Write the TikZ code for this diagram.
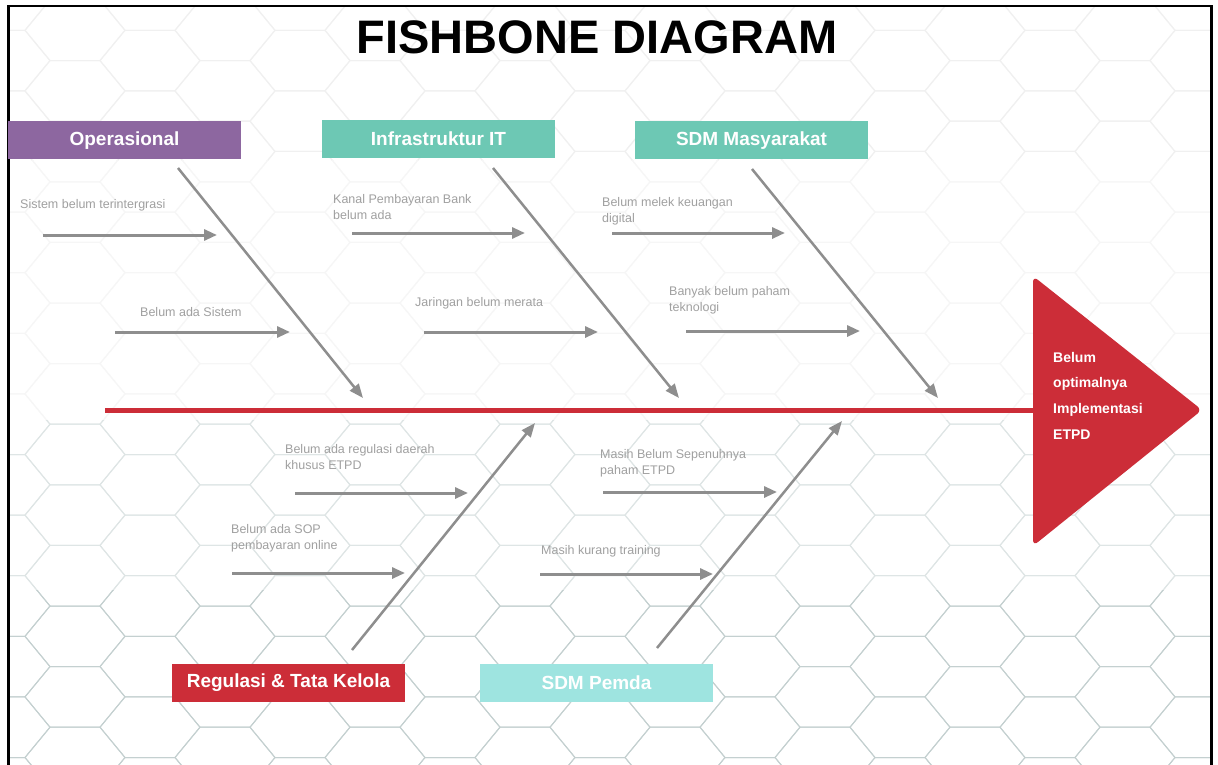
\documentclass[tikz,border=0pt]{standalone}
\usepackage{fontspec}
\setmainfont{Liberation Sans}
\usetikzlibrary{arrows.meta}

\definecolor{opspurple}{HTML}{8D67A0}
\definecolor{itteal}{HTML}{6DC8B4}
\definecolor{pemdacyan}{HTML}{9EE4E0}
\definecolor{fishred}{HTML}{CC2D38}
\definecolor{bonegray}{HTML}{8E8E8E}
\definecolor{labelgray}{HTML}{A0A0A0}
\definecolor{hextop}{HTML}{F0F0F0}
\definecolor{hexfaint}{HTML}{F6F6F6}
\definecolor{hexmid}{HTML}{DEE5E5}
\definecolor{hexdark}{HTML}{C4D0D0}

% flattened hexagon tiling, #1 = line colour
\newcommand{\hexgrid}[1]{%
  \foreach \i in {0,...,17}{
    \foreach \j in {-1,...,13}{
      \pgfmathsetmacro\hx{\i*75}
      \pgfmathsetmacro\hy{\j*60.6+mod(\i,2)*30.3}
      \draw[#1,line width=1pt] (\hx,\hy) +(50,0) -- +(25,30.3) -- +(-25,30.3) -- +(-50,0) -- +(-25,-30.3) -- +(25,-30.3) -- cycle;
    }
  }
}

\tikzset{
  catbox/.style={minimum width=233pt,minimum height=38pt,inner sep=0pt,text=white,
    font=\bfseries\fontsize{19}{19}\selectfont},
  bonearrow/.style={draw=bonegray,line width=2.5pt,-{Triangle[length=14pt,width=11pt]}},
  subarrow/.style={draw=bonegray,line width=3pt,-{Triangle[length=13pt,width=11pt]}},
  causelbl/.style={anchor=west,align=left,inner sep=0pt,text=labelgray,
    font=\fontsize{12.5}{16}\selectfont},
  headtext/.style={anchor=west,align=left,inner sep=0pt,text=white,
    font=\bfseries\fontsize{14}{25.7}\selectfont}
}

\begin{document}
\begin{tikzpicture}[x=1pt,y=-1pt]
  \useasboundingbox (0,0) rectangle (1218,765);
  \fill[white] (0,0) rectangle (1218,765);

  % background hexagons, in bands
  \begin{scope}
    \clip (9,7) rectangle (1211,160);
    \hexgrid{hextop}
  \end{scope}
  \begin{scope}
    \clip (9,160) rectangle (1211,420);
    \hexgrid{hexfaint}
  \end{scope}
  \begin{scope}
    \clip (9,420) rectangle (1211,590);
    \hexgrid{hexmid}
  \end{scope}
  \begin{scope}
    \clip (9,590) rectangle (1211,765);
    \hexgrid{hexdark}
  \end{scope}

  \draw[line width=2.5pt] (8.5,765) -- (8.5,6) -- (1211.5,6) -- (1211.5,765);% frame

  \node[font=\bfseries\fontsize{47}{47}\selectfont] (title) at (597,37) {FISHBONE DIAGRAM};

  % spine and head
  \coordinate (tail) at (105,410);
  \coordinate (headL) at (1036,410);
  \draw[fishred,line width=5pt] (tail) -- (headL);
  \fill[fishred,rounded corners=6pt] (1033,276) -- (1202,410) -- (1033,546) -- cycle;
  \node[headtext] (effect) at (1053,395.5) {Belum\\optimalnya\\Implementasi\\ETPD};

  % categories
  \node[catbox,fill=opspurple] (ops) at (124.5,140.5) {Operasional};
  \node[catbox,fill=itteal] (infra) at (438.5,139) {Infrastruktur IT};
  \node[catbox,fill=itteal] (masy) at (751.5,140.5) {SDM Masyarakat};
  \node[catbox,fill=fishred] (reg) at (288.5,683) {Regulasi \& Tata Kelola};
  \node[catbox,fill=pemdacyan] (pemda) at (596.5,683) {SDM Pemda};

  % main bones
  \coordinate (ops-a) at (178,168);  \coordinate (ops-b) at (363,398);
  \coordinate (it-a) at (493,168);   \coordinate (it-b) at (679,398);
  \coordinate (mas-a) at (752,169);  \coordinate (mas-b) at (938,398);
  \coordinate (reg-a) at (352,650);  \coordinate (reg-b) at (535,423);
  \coordinate (pem-a) at (657,648);  \coordinate (pem-b) at (842,421);
  \foreach \b in {ops,it,mas,reg,pem}
    \draw[bonearrow] (\b-a) -- (\b-b);

  % small bones
  \foreach \n/\xa/\xb/\y in {sis/43/217/235, bas/115/290/332, kan/352/525/233, jar/424/598/332,
      mel/612/785/233, ban/686/860/331, rd/295/468/493, sop/232/405/573, sep/603/777/492, trn/540/713/574}{
    \coordinate (\n-a) at (\xa,\y);
    \coordinate (\n-b) at (\xb,\y);
    \draw[subarrow] (\n-a) -- (\n-b);
  }

  \node[causelbl] (sisl) at (20,205) {Sistem belum terintergrasi};
  \node[causelbl] (basl) at (140,312) {Belum ada Sistem};
  \node[causelbl] (kanl) at (333,207.5) {Kanal Pembayaran Bank\\belum ada};
  \node[causelbl] (jarl) at (415,303) {Jaringan belum merata};
  \node[causelbl] (mell) at (602,211.5) {Belum melek keuangan\\digital};
  \node[causelbl] (banl) at (669,300) {Banyak belum paham\\teknologi};
  \node[causelbl] (rdl) at (285,457.5) {Belum ada regulasi daerah\\khusus ETPD};
  \node[causelbl] (sopl) at (231,538.5) {Belum ada SOP\\pembayaran online};
  \node[causelbl] (sepl) at (600,463) {Masih Belum Sepenuhnya\\paham ETPD};
  \node[causelbl] (trnl) at (541,551) {Masih kurang training};
\end{tikzpicture}
\end{document}
